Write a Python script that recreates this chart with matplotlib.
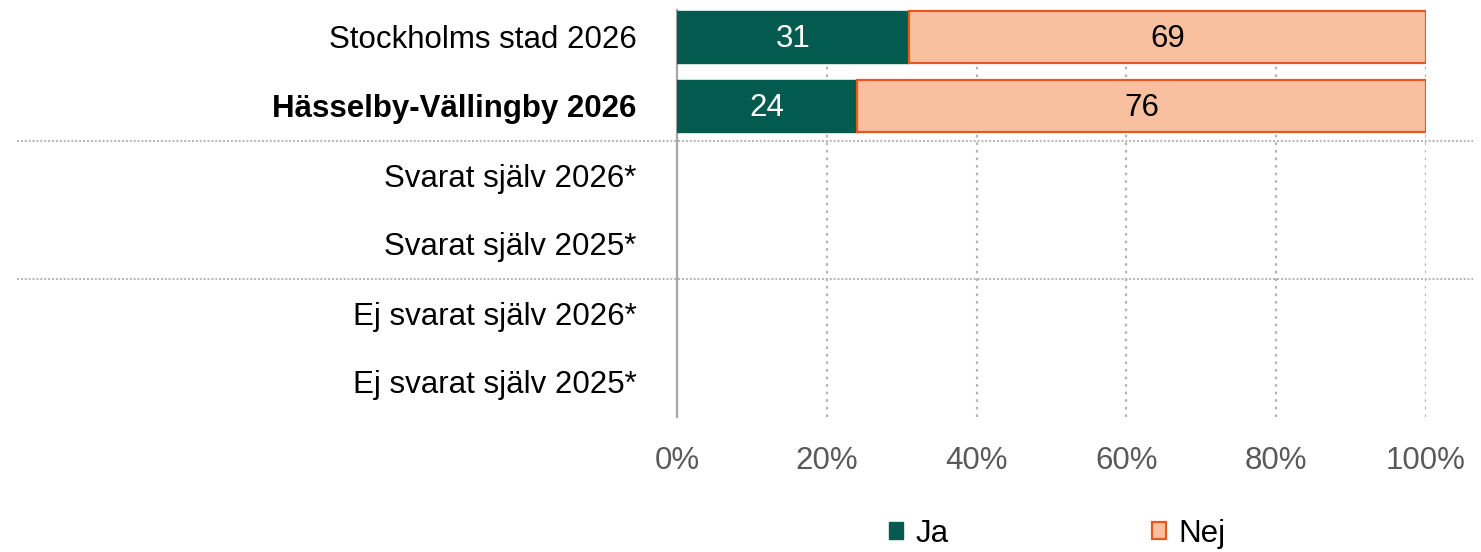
import numpy as np
import matplotlib
matplotlib.use("Agg")
import matplotlib.pyplot as plt
from matplotlib.patches import Patch

plt.rcParams['font.family'] = ['Liberation Sans', 'DejaVu Sans']

categories = [
    "Stockholms stad 2026",
    "Hässelby-Vällingby 2026",
    "Svarat själv 2026*",
    "Svarat själv 2025*",
    "Ej svarat själv 2026*",
    "Ej svarat själv 2025*",
]
ja = [31, 24, np.nan, np.nan, np.nan, np.nan]
nej = [69, 76, np.nan, np.nan, np.nan, np.nan]
series_names = ["Ja", "Nej"]
x_ticks = [0, 20, 40, 60, 80, 100]
x_tick_labels = ["0%", "20%", "40%", "60%", "80%", "100%"]
bold_category = "Hässelby-Vällingby 2026"

ja_color = "#035a4e"
nej_face = "#f8c09e"
nej_edge = "#e8581a"
grid_color = "#b4b4b4"
FS = 22.5

fig = plt.figure(figsize=(14.81, 5.52), dpi=100)
ax = fig.add_axes([677 / 1481, 1 - 416.5 / 552, 749 / 1481, 414 / 552])

y = np.arange(len(categories))
ja_arr = np.array(ja, dtype=float)
nej_arr = np.array(nej, dtype=float)

ax.barh(y, ja_arr, height=0.75, color=ja_color, edgecolor=ja_color,
        linewidth=1, zorder=3)
ax.barh(y, nej_arr, left=ja_arr, height=0.75, color=nej_face,
        edgecolor=nej_edge, linewidth=1.6, zorder=3)

for i in range(len(categories)):
    if not np.isnan(ja_arr[i]):
        ax.text(ja_arr[i] / 2, y[i] + 0.03, f"{ja_arr[i]:.0f}", ha="center", va="center",
                color="white", fontsize=FS, zorder=4)
    if not np.isnan(nej_arr[i]):
        ax.text(ja_arr[i] + nej_arr[i] / 2, y[i] + 0.03, f"{nej_arr[i]:.0f}", ha="center",
                va="center", color="black", fontsize=FS, zorder=4)

ax.set_xlim(0, 100)
ax.set_ylim(len(categories) - 0.5, -0.5)

ax.set_xticks(x_ticks)
ax.set_xticklabels(x_tick_labels, fontsize=FS, color="#595959")
ax.set_yticks(y)
ax.set_yticklabels(categories, fontsize=FS, color="black")
for lbl in ax.get_yticklabels():
    if lbl.get_text() == bold_category:
        lbl.set_fontweight("bold")

ax.tick_params(axis="x", length=0, pad=21)
ax.tick_params(axis="y", length=0, pad=29)

for t in x_ticks[1:]:
    ax.axvline(t, color=grid_color, linestyle=(0, (1.2, 2.2)), linewidth=1.6,
               ymin=0, ymax=0.985, zorder=1)

for s in ["top", "right", "bottom"]:
    ax.spines[s].set_visible(False)
ax.spines["left"].set_color("#a6a6a6")
ax.spines["left"].set_linewidth(1.6)
ax.spines["left"].set_bounds(len(categories) - 0.5, -0.39)

# group separators running across the label column and plot area
for ysep in [1.5, 3.5]:
    ax.axhline(ysep, xmin=(17 - 677) / 749, xmax=(1473 - 677) / 749,
               color=grid_color, linestyle=(0, (1.0, 1.0)), linewidth=1.4,
               clip_on=False, zorder=2)

handles = [
    Patch(facecolor=ja_color, edgecolor=ja_color, label=series_names[0]),
    Patch(facecolor=nej_face, edgecolor=nej_edge, linewidth=1.6, label=series_names[1]),
]
fig.legend(handles=handles, loc="center", bbox_to_anchor=(1057 / 1481, 1 - 534 / 552),
           ncol=2, frameon=False, fontsize=FS, handlelength=0.45, handleheight=0.45,
           handletextpad=0.4, columnspacing=6.5)

fig.savefig("out.png", dpi=100)
